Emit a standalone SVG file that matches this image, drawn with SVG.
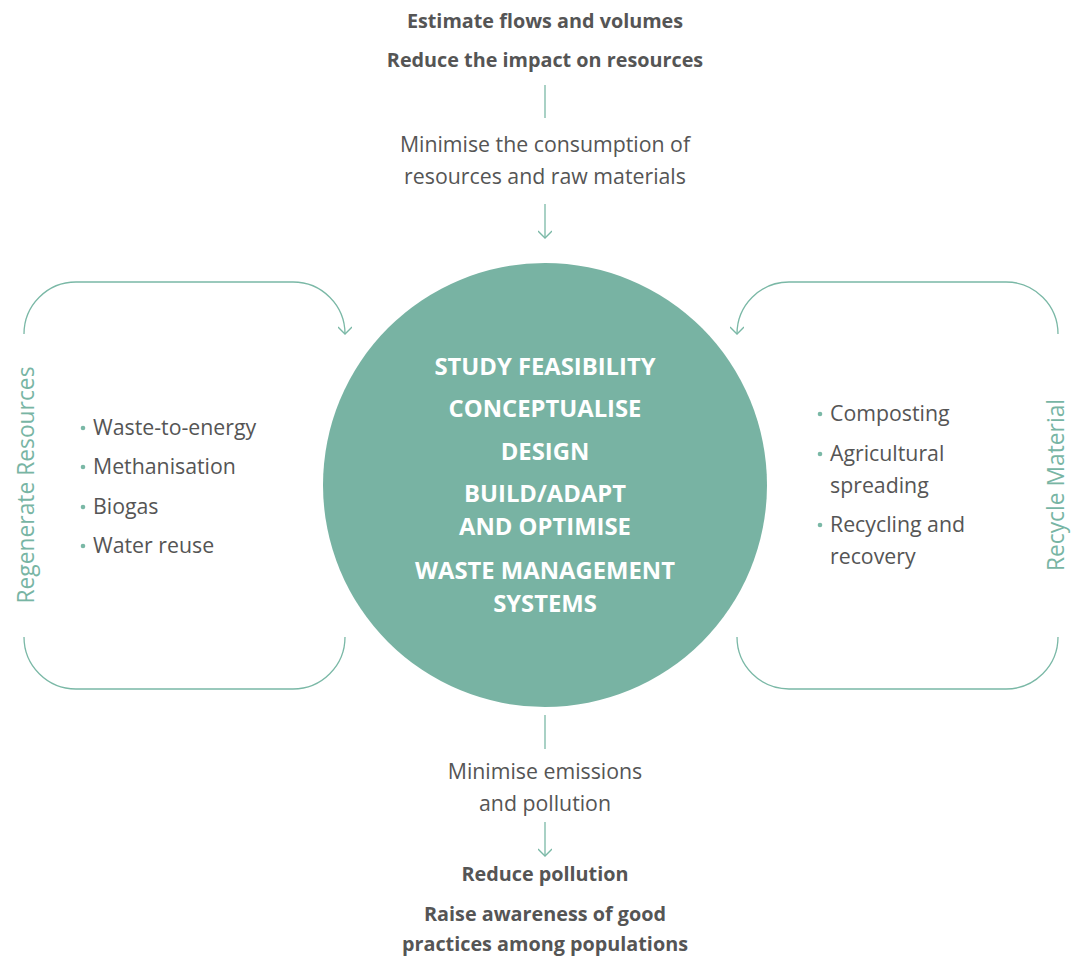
<svg xmlns="http://www.w3.org/2000/svg" width="1071" height="957" viewBox="0 0 1071 957">
<style>
.b{font-family:"Open Sans","Liberation Sans",sans-serif;font-weight:700;font-size:19.8px;fill:#555;text-anchor:middle}
.r{font-family:"Open Sans","Liberation Sans",sans-serif;font-size:21.3px;fill:#555;text-anchor:middle}
.l{font-family:"Open Sans","Liberation Sans",sans-serif;font-size:21.3px;fill:#555}
.w{font-family:"Open Sans","Liberation Sans",sans-serif;font-weight:700;font-size:23.8px;fill:#fff;text-anchor:middle}
.t{font-family:"Open Sans","Liberation Sans",sans-serif;font-size:22.8px;fill:#78b5a4;text-anchor:middle}
.c{fill:none;stroke:#7ab8a6;stroke-width:1.3}
.d{fill:#7ab8a6}
</style>
<defs>
<marker id="ah" viewBox="0 0 12 14" refX="11" refY="7" markerWidth="12" markerHeight="14" markerUnits="userSpaceOnUse" orient="auto">
<path d="M4,0 L11,7 L4,14" fill="none" stroke="#7ab8a6" stroke-width="1.3"/>
</marker>
</defs>
<g id="center">
<circle cx="545" cy="485" r="222" fill="#78b3a3"/>
<text class="w" x="545" y="375">STUDY FEASIBILITY</text>
<text class="w" x="545" y="417">CONCEPTUALISE</text>
<text class="w" x="545" y="460">DESIGN</text>
<text class="w" x="545" y="502">BUILD/ADAPT</text>
<text class="w" x="545" y="535">AND OPTIMISE</text>
<text class="w" x="545" y="579">WASTE MANAGEMENT</text>
<text class="w" x="545" y="612">SYSTEMS</text>
</g>
<g id="top">
<text class="b" x="545" y="28">Estimate flows and volumes</text>
<text class="b" x="545" y="67">Reduce the impact on resources</text>
<text class="r" x="545" y="152">Minimise the consumption of</text>
<text class="r" x="545" y="184">resources and raw materials</text>
</g>
<g id="bottom">
<text class="r" x="545" y="779">Minimise emissions</text>
<text class="r" x="545" y="811">and pollution</text>
<text class="b" x="545" y="881">Reduce pollution</text>
<text class="b" x="545" y="921">Raise awareness of good</text>
<text class="b" x="545" y="951">practices among populations</text>
</g>
<g id="regenerate">
<text class="t" transform="translate(34,485) rotate(-90)">Regenerate Resources</text>
<circle class="d" cx="83" cy="428" r="2.3"/>
<text class="l" x="93" y="435">Waste-to-energy</text>
<circle class="d" cx="83" cy="467" r="2.3"/>
<text class="l" x="93" y="474">Methanisation</text>
<circle class="d" cx="83" cy="507" r="2.3"/>
<text class="l" x="93" y="514">Biogas</text>
<circle class="d" cx="83" cy="546" r="2.3"/>
<text class="l" x="93" y="553">Water reuse</text>
</g>
<g id="recycle">
<text class="t" transform="translate(1064,485) rotate(-90)">Recycle Material</text>
<circle class="d" cx="820" cy="414" r="2.3"/>
<text class="l" x="830" y="421">Composting</text>
<circle class="d" cx="820" cy="454" r="2.3"/>
<text class="l" x="830" y="461">Agricultural</text>
<text class="l" x="830" y="493">spreading</text>
<circle class="d" cx="820" cy="525" r="2.3"/>
<text class="l" x="830" y="532">Recycling and</text>
<text class="l" x="830" y="564">recovery</text>
</g>
<g id="connectors">
<line class="c" x1="545" y1="85" x2="545" y2="118"/>
<line class="c" x1="545" y1="204" x2="545" y2="238" marker-end="url(#ah)"/>
<line class="c" x1="545" y1="715" x2="545" y2="749"/>
<line class="c" x1="545" y1="822" x2="545" y2="856" marker-end="url(#ah)"/>
<path class="c" d="M24,334 A52,52 0 0 1 76,282 H293 A52,52 0 0 1 345,334" marker-end="url(#ah)"/>
<path class="c" d="M24,637 A52,52 0 0 0 76,689 H293 A52,52 0 0 0 345,637"/>
<path class="c" d="M1058,334 A52,52 0 0 0 1006,282 H789 A52,52 0 0 0 737,334" marker-end="url(#ah)"/>
<path class="c" d="M1058,637 A52,52 0 0 1 1006,689 H789 A52,52 0 0 1 737,637"/>
</g>
</svg>
